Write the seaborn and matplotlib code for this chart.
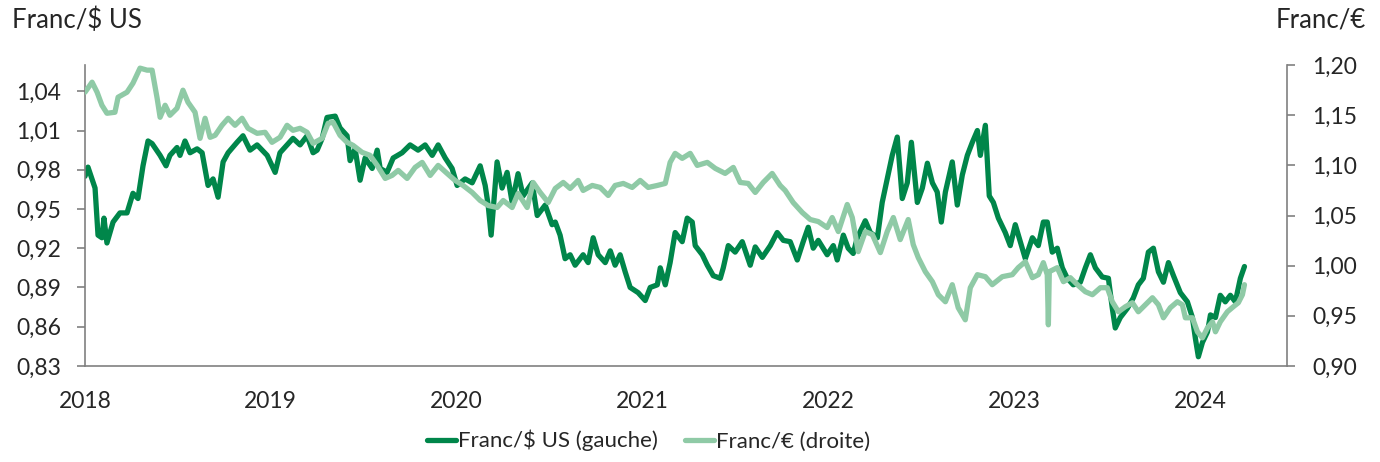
import numpy as np
import pandas as pd
import matplotlib
matplotlib.use('Agg')
import matplotlib.pyplot as plt
import seaborn as sns

sns.set_style('white')
plt.rcParams['font.family'] = ['Lato', 'DejaVu Sans']

# Franc / $ US (left axis); x in decimal years
usd_years = [
    2018.000, 2018.016, 2018.054, 2018.070, 2018.091, 2018.102, 2018.118, 2018.151, 2018.188, 2018.226,
    2018.258, 2018.285, 2018.312, 2018.339, 2018.361, 2018.404, 2018.436, 2018.457, 2018.495, 2018.511,
    2018.538, 2018.565, 2018.603, 2018.630, 2018.662, 2018.689, 2018.716, 2018.743, 2018.770, 2018.818,
    2018.850, 2018.888, 2018.926, 2018.980, 2019.023, 2019.049, 2019.087, 2019.119, 2019.157, 2019.195,
    2019.227, 2019.249, 2019.276, 2019.302, 2019.346, 2019.372, 2019.410, 2019.426, 2019.453, 2019.480,
    2019.507, 2019.545, 2019.572, 2019.588, 2019.625, 2019.658, 2019.706, 2019.749, 2019.792, 2019.830,
    2019.868, 2019.900, 2019.938, 2019.975, 2020.002, 2020.045, 2020.083, 2020.126, 2020.153, 2020.169,
    2020.185, 2020.217, 2020.244, 2020.271, 2020.298, 2020.330, 2020.357, 2020.406, 2020.433, 2020.476,
    2020.513, 2020.530, 2020.556, 2020.583, 2020.610, 2020.637, 2020.680, 2020.707, 2020.734, 2020.761,
    2020.799, 2020.826, 2020.852, 2020.879, 2020.906, 2020.933, 2020.976, 2021.014, 2021.041, 2021.079,
    2021.095, 2021.122, 2021.148, 2021.175, 2021.213, 2021.240, 2021.267, 2021.283, 2021.321, 2021.348,
    2021.380, 2021.418, 2021.434, 2021.461, 2021.498, 2021.536, 2021.579, 2021.606, 2021.644, 2021.687,
    2021.724, 2021.757, 2021.794, 2021.832, 2021.864, 2021.891, 2021.918, 2021.945, 2021.993, 2022.026,
    2022.047, 2022.080, 2022.106, 2022.133, 2022.155, 2022.198, 2022.225, 2022.263, 2022.289, 2022.316,
    2022.343, 2022.370, 2022.397, 2022.424, 2022.446, 2022.478, 2022.505, 2022.532, 2022.559, 2022.585,
    2022.607, 2022.629, 2022.666, 2022.693, 2022.720, 2022.747, 2022.774, 2022.801, 2022.817, 2022.844,
    2022.865, 2022.887, 2022.914, 2022.951, 2022.978, 2023.005, 2023.032, 2023.059, 2023.097, 2023.129,
    2023.156, 2023.177, 2023.204, 2023.231, 2023.258, 2023.285, 2023.317, 2023.355, 2023.382, 2023.409,
    2023.436, 2023.473, 2023.506, 2023.527, 2023.543, 2023.570, 2023.608, 2023.640, 2023.667, 2023.694,
    2023.721, 2023.748, 2023.775, 2023.802, 2023.829, 2023.856, 2023.893, 2023.931, 2023.958, 2023.974,
    2023.990, 2024.012, 2024.039, 2024.055, 2024.082, 2024.108, 2024.135, 2024.162, 2024.189, 2024.216,
    2024.238,
]
usd_values = [
    0.975, 0.982, 0.966, 0.930, 0.928, 0.943, 0.924, 0.940, 0.947, 0.947,
    0.962, 0.958, 0.983, 1.002, 1.000, 0.991, 0.983, 0.991, 0.997, 0.991,
    1.002, 0.993, 0.996, 0.993, 0.968, 0.973, 0.959, 0.986, 0.993, 1.001,
    1.006, 0.995, 0.999, 0.991, 0.978, 0.993, 0.999, 1.004, 0.999, 1.006,
    0.993, 0.995, 1.004, 1.020, 1.021, 1.012, 1.006, 0.987, 0.996, 0.972,
    0.989, 0.981, 0.995, 0.981, 0.978, 0.989, 0.993, 0.999, 0.995, 0.999,
    0.991, 0.999, 0.989, 0.981, 0.968, 0.973, 0.970, 0.983, 0.968, 0.953,
    0.930, 0.986, 0.966, 0.978, 0.955, 0.977, 0.960, 0.970, 0.945, 0.953,
    0.938, 0.940, 0.930, 0.912, 0.915, 0.907, 0.915, 0.909, 0.928, 0.915,
    0.909, 0.918, 0.907, 0.915, 0.902, 0.890, 0.886, 0.880, 0.890, 0.892,
    0.905, 0.892, 0.909, 0.932, 0.925, 0.943, 0.940, 0.922, 0.915, 0.907,
    0.899, 0.897, 0.905, 0.922, 0.917, 0.925, 0.907, 0.921, 0.913, 0.922,
    0.932, 0.926, 0.925, 0.911, 0.925, 0.936, 0.920, 0.926, 0.915, 0.922,
    0.911, 0.930, 0.920, 0.916, 0.928, 0.941, 0.932, 0.928, 0.955, 0.973,
    0.991, 1.005, 0.958, 0.970, 1.001, 0.955, 0.966, 0.985, 0.970, 0.963,
    0.940, 0.963, 0.986, 0.953, 0.976, 0.991, 1.001, 1.010, 0.991, 1.014,
    0.960, 0.955, 0.943, 0.932, 0.922, 0.938, 0.925, 0.912, 0.928, 0.922,
    0.940, 0.940, 0.917, 0.920, 0.905, 0.897, 0.892, 0.894, 0.905, 0.915,
    0.905, 0.898, 0.897, 0.874, 0.859, 0.867, 0.874, 0.882, 0.892, 0.897,
    0.917, 0.920, 0.902, 0.894, 0.909, 0.899, 0.886, 0.879, 0.867, 0.851,
    0.837, 0.848, 0.856, 0.869, 0.867, 0.884, 0.879, 0.884, 0.879, 0.897,
    0.906,
]

# Franc / EUR (right axis)
eur_years = [
    2018.000, 2018.038, 2018.065, 2018.091, 2018.118, 2018.161, 2018.178, 2018.226, 2018.258, 2018.296,
    2018.334, 2018.361, 2018.388, 2018.404, 2018.431, 2018.457, 2018.495, 2018.527, 2018.554, 2018.592,
    2018.619, 2018.646, 2018.673, 2018.700, 2018.737, 2018.770, 2018.807, 2018.845, 2018.877, 2018.926,
    2018.969, 2019.006, 2019.049, 2019.087, 2019.119, 2019.157, 2019.195, 2019.227, 2019.276, 2019.308,
    2019.335, 2019.372, 2019.410, 2019.442, 2019.491, 2019.534, 2019.572, 2019.615, 2019.652, 2019.685,
    2019.733, 2019.776, 2019.814, 2019.857, 2019.900, 2019.948, 2019.991, 2020.034, 2020.083, 2020.126,
    2020.169, 2020.217, 2020.250, 2020.298, 2020.330, 2020.379, 2020.411, 2020.449, 2020.492, 2020.530,
    2020.573, 2020.610, 2020.653, 2020.680, 2020.729, 2020.772, 2020.815, 2020.852, 2020.896, 2020.944,
    2020.987, 2021.030, 2021.079, 2021.122, 2021.148, 2021.175, 2021.213, 2021.256, 2021.294, 2021.348,
    2021.391, 2021.444, 2021.488, 2021.525, 2021.568, 2021.606, 2021.649, 2021.697, 2021.740, 2021.767,
    2021.810, 2021.859, 2021.902, 2021.945, 2021.993, 2022.020, 2022.053, 2022.101, 2022.128, 2022.160,
    2022.198, 2022.236, 2022.279, 2022.316, 2022.349, 2022.386, 2022.429, 2022.456, 2022.483, 2022.521,
    2022.559, 2022.591, 2022.629, 2022.666, 2022.698, 2022.736, 2022.763, 2022.801, 2022.844, 2022.881,
    2022.935, 2022.989, 2023.021, 2023.059, 2023.097, 2023.129, 2023.156, 2023.177, 2023.183, 2023.188,
    2023.231, 2023.264, 2023.301, 2023.339, 2023.382, 2023.420, 2023.463, 2023.500, 2023.527, 2023.560,
    2023.597, 2023.635, 2023.667, 2023.705, 2023.743, 2023.775, 2023.802, 2023.839, 2023.877, 2023.904,
    2023.920, 2023.958, 2023.985, 2024.012, 2024.039, 2024.066, 2024.082, 2024.108, 2024.146, 2024.178,
    2024.205, 2024.227, 2024.238,
]
eur_values = [
    1.173, 1.183, 1.173, 1.160, 1.152, 1.153, 1.168, 1.173, 1.182, 1.197,
    1.195, 1.195, 1.167, 1.148, 1.160, 1.150, 1.157, 1.175, 1.163, 1.153,
    1.127, 1.147, 1.128, 1.130, 1.140, 1.147, 1.140, 1.147, 1.137, 1.132,
    1.133, 1.123, 1.128, 1.140, 1.135, 1.137, 1.133, 1.122, 1.127, 1.142,
    1.143, 1.130, 1.123, 1.120, 1.113, 1.110, 1.100, 1.087, 1.090, 1.095,
    1.087, 1.098, 1.103, 1.090, 1.100, 1.092, 1.085, 1.080, 1.073, 1.065,
    1.060, 1.058, 1.065, 1.058, 1.072, 1.058, 1.083, 1.073, 1.063, 1.077,
    1.083, 1.077, 1.085, 1.075, 1.080, 1.078, 1.070, 1.080, 1.082, 1.078,
    1.085, 1.078, 1.080, 1.082, 1.103, 1.112, 1.107, 1.112, 1.100, 1.103,
    1.097, 1.092, 1.098, 1.083, 1.082, 1.073, 1.083, 1.092, 1.080, 1.075,
    1.063, 1.053, 1.046, 1.044, 1.038, 1.048, 1.034, 1.061, 1.048, 1.014,
    1.034, 1.031, 1.013, 1.034, 1.048, 1.026, 1.046, 1.021, 1.008, 0.994,
    0.984, 0.971, 0.964, 0.981, 0.958, 0.946, 0.978, 0.991, 0.989, 0.981,
    0.989, 0.991, 0.998, 1.004, 0.988, 0.991, 1.003, 0.991, 0.941, 0.994,
    0.998, 0.984, 0.988, 0.981, 0.974, 0.971, 0.978, 0.978, 0.964, 0.954,
    0.959, 0.963, 0.954, 0.961, 0.968, 0.961, 0.948, 0.958, 0.964, 0.961,
    0.948, 0.948, 0.934, 0.928, 0.938, 0.944, 0.934, 0.944, 0.954, 0.959,
    0.963, 0.971, 0.981,
]

left_ticks = [0.83, 0.86, 0.89, 0.92, 0.95, 0.98, 1.01, 1.04]
left_labels = ['0,83', '0,86', '0,89', '0,92', '0,95', '0,98', '1,01', '1,04']
right_ticks = [0.90, 0.95, 1.00, 1.05, 1.10, 1.15, 1.20]
right_labels = ['0,90', '0,95', '1,00', '1,05', '1,10', '1,15', '1,20']
year_ticks = [2018, 2019, 2020, 2021, 2022, 2023, 2024]
year_labels = [str(y) for y in year_ticks]

dark = '#00864a'
light = '#8fcaa6'
grey = '#808080'


def to_dates(years):
    yrs = np.array(years)
    return pd.Timestamp('2018-01-01') + pd.to_timedelta((yrs - 2018) * 365.25, unit='D')


usd = pd.DataFrame({'date': to_dates(usd_years), 'value': usd_values})
eur = pd.DataFrame({'date': to_dates(eur_years), 'value': eur_values})

fig, ax = plt.subplots(figsize=(13.8, 4.62), dpi=100)
fig.subplots_adjust(left=0.0616, right=0.9326, bottom=0.208, top=0.859)
ax2 = ax.twinx()

sns.lineplot(data=usd, x='date', y='value', ax=ax, color=dark, lw=3.8, label='Franc/\\$ US (gauche)')
sns.lineplot(data=eur, x='date', y='value', ax=ax2, color=light, lw=3.8, label='Franc/€ (droite)')

ax.set_ylim(0.83, 1.06)
ax2.set_ylim(0.90, 1.20)
ax.set_xlim(pd.Timestamp('2018-01-01'), pd.Timestamp('2024-06-20'))

ax.set_yticks(left_ticks)
ax.set_yticklabels(left_labels)
ax2.set_yticks(right_ticks)
ax2.set_yticklabels(right_labels)
ax.set_xticks([pd.Timestamp(f'{y}-01-01') for y in year_ticks])
ax.set_xticklabels(year_labels)

ax.set_xlabel('')
ax.set_ylabel('')
ax2.set_ylabel('')

for a in (ax, ax2):
    a.spines['top'].set_visible(False)
    for s in a.spines.values():
        s.set_color(grey)
        s.set_linewidth(1.2)
ax.spines['right'].set_visible(False)
ax2.spines['left'].set_visible(False)
ax2.spines['bottom'].set_visible(False)

ax.tick_params(axis='y', left=True, length=6, width=1.2, color=grey, labelsize=16.5, pad=11, labelcolor='#262626')
ax2.tick_params(axis='y', right=True, length=6, width=1.2, color=grey, labelsize=16.5, pad=12, labelcolor='#262626')
ax.tick_params(axis='x', bottom=False, length=0, labelsize=16.5, pad=18, labelcolor='#262626')

h1, l1 = ax.get_legend_handles_labels()
h2, l2 = ax2.get_legend_handles_labels()
ax.get_legend().remove()
ax2.get_legend().remove()
fig.legend(h1 + h2, l1 + l2, loc='center', bbox_to_anchor=(0.47, 0.046), ncol=2, frameon=False,
           fontsize=16, handlelength=1.3, handletextpad=0.1, columnspacing=1.2)

fig.text(12 / 1380, 1 - 20 / 462, 'Franc/\\$ US', ha='left', va='center', fontsize=18.5, color='#262626')
fig.text(1366 / 1380, 1 - 20 / 462, 'Franc/€', ha='right', va='center', fontsize=18.5, color='#262626')

fig.savefig('out.png', dpi=100)
